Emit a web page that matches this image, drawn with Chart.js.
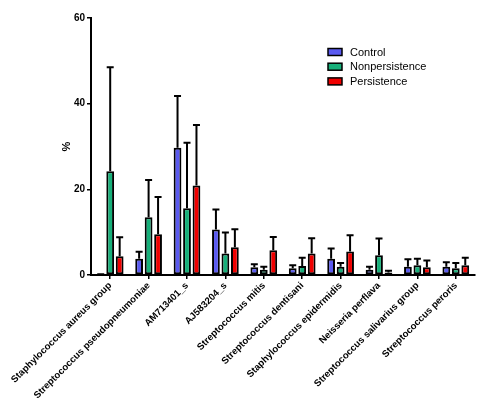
<!DOCTYPE html>
<html>
<head>
<meta charset="utf-8">
<script src="https://cdn.jsdelivr.net/npm/chart.js@4.4.1/dist/chart.umd.min.js"></script>
<style>
  html, body { margin: 0; padding: 0; background: #fff; }
  #wrap { width: 481px; height: 412px; }
</style>
</head>
<body>
<div id="wrap"><canvas id="grafico" width="481" height="412"></canvas></div>
<script>
// categorias e valores (media e desvio)
var especies = [
    "Staphylococcus aureus group",
    "Streptococcus pseudopneumoniae",
    "AM713401_s",
    "AJ583204_s",
    "Streptococcus mitis",
    "Streptococcus dentisani",
    "Staphylococcus epidermidis",
    "Neisseria perflava",
    "Streptococcus salivarius group",
    "Streptococcus peroris"
];
var controle = [0.1, 3.8, 29.7, 10.6, 1.8, 1.6, 3.8, 1.2, 1.9, 1.9];
var controleDP = [0.1, 1.6, 12.1, 4.7, 0.7, 0.7, 2.4, 0.7, 1.8, 1.1];
var naoPersistente = [24.2, 13.5, 15.6, 5.0, 1.2, 2.1, 1.9, 4.6, 2.3, 1.6];
var naoPersistenteDP = [24.3, 8.7, 15.3, 4.9, 0.7, 1.9, 0.9, 3.9, 1.5, 1.2];
var persistente = [4.4, 9.5, 20.9, 6.5, 5.8, 5.0, 5.5, 0.6, 1.8, 2.3];
var persistenteDP = [4.4, 8.7, 14.1, 4.2, 3.1, 3.6, 3.8, 0.4, 1.6, 1.7];
var ticksY = [0, 20, 40, 60];

var fonte = "'Liberation Sans', Arial, sans-serif";

// barras de erro (so para cima)
var barrasErro = {
    id: 'barrasErro',
    afterDatasetsDraw: function (chart) {
        var ctx = chart.ctx;
        var y = chart.scales.y;
        ctx.save();
        ctx.strokeStyle = '#000';
        ctx.lineWidth = 2;
        chart.data.datasets.forEach(function (ds, i) {
            var meta = chart.getDatasetMeta(i);
            meta.data.forEach(function (bar, j) {
                var topo = y.getPixelForValue(ds.data[j] + ds.erros[j]);
                ctx.beginPath();
                ctx.moveTo(bar.x, bar.y);
                ctx.lineTo(bar.x, topo);
                ctx.moveTo(bar.x - 3.5, topo);
                ctx.lineTo(bar.x + 3.5, topo);
                ctx.stroke();
            });
        });
        ctx.restore();
    }
};

// legenda desenhada no canto superior direito
var legenda = {
    id: 'legenda',
    afterDraw: function (chart) {
        var ctx = chart.ctx;
        ctx.save();
        ctx.font = '11px ' + fonte;
        ctx.textBaseline = 'middle';
        chart.data.datasets.forEach(function (ds, i) {
            var cy = 52 + i * 14.7;
            ctx.fillStyle = ds.backgroundColor;
            ctx.fillRect(328, cy - 3.5, 14, 7);
            ctx.strokeStyle = '#000';
            ctx.lineWidth = 1.5;
            ctx.strokeRect(328, cy - 3.5, 14, 7);
            ctx.fillStyle = '#000';
            ctx.fillText(ds.label, 350, cy + 0.5);
        });
        ctx.restore();
    }
};

new Chart(document.getElementById('grafico'), {
    type: 'bar',
    data: {
        labels: especies,
        datasets: [
            { label: 'Control', data: controle, erros: controleDP, backgroundColor: '#5a5af0' },
            { label: 'Nonpersistence', data: naoPersistente, erros: naoPersistenteDP, backgroundColor: '#17b07a' },
            { label: 'Persistence', data: persistente, erros: persistenteDP, backgroundColor: '#f00000' }
        ]
    },
    options: {
        responsive: false,
        animation: false,
        devicePixelRatio: 1,
        layout: { padding: { left: 60, right: 6, top: 18, bottom: 0 } },
        datasets: {
            bar: {
                borderColor: '#000',
                borderWidth: 2,
                borderSkipped: false,
                categoryPercentage: 0.74,
                barPercentage: 0.82
            }
        },
        plugins: {
            legend: { display: false },
            tooltip: { enabled: false }
        },
        scales: {
            x: {
                grid: { display: true, drawOnChartArea: false, offset: false, color: '#000', tickLength: 4, lineWidth: 1.5 },
                border: { color: '#000', width: 2 },
                ticks: {
                    color: '#000',
                    autoSkip: false,
                    maxRotation: 45,
                    minRotation: 45,
                    padding: 1,
                    font: { family: fonte, size: 9.6, weight: 'bold' }
                },
                afterFit: function (scale) { scale.height = 137; }
            },
            y: {
                min: 0,
                max: 60,
                afterBuildTicks: function (scale) {
                    scale.ticks = ticksY.map(function (v) { return { value: v }; });
                },
                grid: { display: true, drawOnChartArea: false, color: '#000', tickLength: 4, lineWidth: 1.5 },
                border: { color: '#000', width: 2 },
                ticks: {
                    color: '#000',
                    padding: 2,
                    font: { family: fonte, size: 10, weight: 'bold' }
                },
                title: {
                    display: true,
                    text: '%',
                    color: '#000',
                    padding: { top: 0, bottom: 6 },
                    font: { family: fonte, size: 11, weight: 'bold' }
                },
                afterFit: function (scale) { scale.width = 31; }
            }
        }
    },
    plugins: [barrasErro, legenda]
});
</script>
</body>
</html>
